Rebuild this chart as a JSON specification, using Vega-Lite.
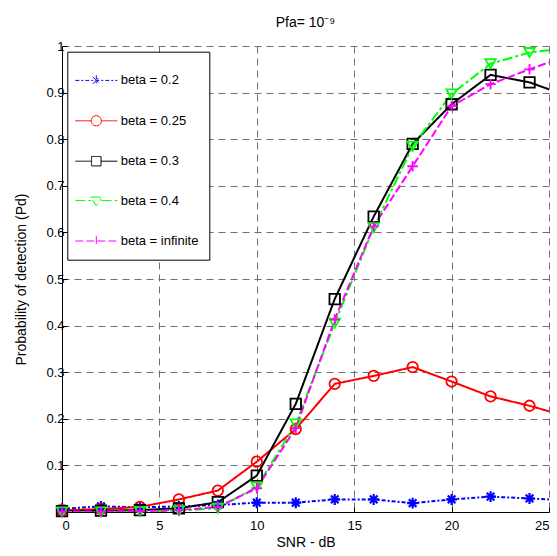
{
  "$schema": "https://vega.github.io/schema/vega-lite/v6.json",
  "autosize": "none",
  "width": 487,
  "height": 466,
  "padding": {"left": 62, "top": 46, "right": 8, "bottom": 44},
  "background": "white",
  "title": {"text": "Pfa= 10⁻⁹", "fontSize": 14, "font": "Liberation Sans", "fontWeight": "normal", "color": "black", "anchor": "middle", "offset": 10},
  "data": {"values": [
    {"snr": 0, "pd": 0.007, "beta": "beta = 0.2"},
    {"snr": 2, "pd": 0.012, "beta": "beta = 0.2"},
    {"snr": 4, "pd": 0.010, "beta": "beta = 0.2"},
    {"snr": 6, "pd": 0.012, "beta": "beta = 0.2"},
    {"snr": 8, "pd": 0.015, "beta": "beta = 0.2"},
    {"snr": 10, "pd": 0.020, "beta": "beta = 0.2"},
    {"snr": 12, "pd": 0.020, "beta": "beta = 0.2"},
    {"snr": 14, "pd": 0.027, "beta": "beta = 0.2"},
    {"snr": 16, "pd": 0.027, "beta": "beta = 0.2"},
    {"snr": 18, "pd": 0.019, "beta": "beta = 0.2"},
    {"snr": 20, "pd": 0.027, "beta": "beta = 0.2"},
    {"snr": 22, "pd": 0.033, "beta": "beta = 0.2"},
    {"snr": 24, "pd": 0.029, "beta": "beta = 0.2"},
    {"snr": 26, "pd": 0.025, "beta": "beta = 0.2"},
    {"snr": 0, "pd": 0.004, "beta": "beta = 0.25"},
    {"snr": 2, "pd": 0.006, "beta": "beta = 0.25"},
    {"snr": 4, "pd": 0.011, "beta": "beta = 0.25"},
    {"snr": 6, "pd": 0.027, "beta": "beta = 0.25"},
    {"snr": 8, "pd": 0.046, "beta": "beta = 0.25"},
    {"snr": 10, "pd": 0.108, "beta": "beta = 0.25"},
    {"snr": 12, "pd": 0.178, "beta": "beta = 0.25"},
    {"snr": 14, "pd": 0.275, "beta": "beta = 0.25"},
    {"snr": 16, "pd": 0.292, "beta": "beta = 0.25"},
    {"snr": 18, "pd": 0.311, "beta": "beta = 0.25"},
    {"snr": 20, "pd": 0.280, "beta": "beta = 0.25"},
    {"snr": 22, "pd": 0.248, "beta": "beta = 0.25"},
    {"snr": 24, "pd": 0.228, "beta": "beta = 0.25"},
    {"snr": 26, "pd": 0.204, "beta": "beta = 0.25"},
    {"snr": 0, "pd": 0.002, "beta": "beta = 0.3"},
    {"snr": 2, "pd": 0.003, "beta": "beta = 0.3"},
    {"snr": 4, "pd": 0.004, "beta": "beta = 0.3"},
    {"snr": 6, "pd": 0.008, "beta": "beta = 0.3"},
    {"snr": 8, "pd": 0.021, "beta": "beta = 0.3"},
    {"snr": 10, "pd": 0.078, "beta": "beta = 0.3"},
    {"snr": 12, "pd": 0.232, "beta": "beta = 0.3"},
    {"snr": 14, "pd": 0.457, "beta": "beta = 0.3"},
    {"snr": 16, "pd": 0.634, "beta": "beta = 0.3"},
    {"snr": 18, "pd": 0.790, "beta": "beta = 0.3"},
    {"snr": 20, "pd": 0.875, "beta": "beta = 0.3"},
    {"snr": 22, "pd": 0.938, "beta": "beta = 0.3"},
    {"snr": 24, "pd": 0.922, "beta": "beta = 0.3"},
    {"snr": 26, "pd": 0.892, "beta": "beta = 0.3"},
    {"snr": 0, "pd": 0.000, "beta": "beta = 0.4"},
    {"snr": 2, "pd": 0.000, "beta": "beta = 0.4"},
    {"snr": 4, "pd": 0.001, "beta": "beta = 0.4"},
    {"snr": 6, "pd": 0.003, "beta": "beta = 0.4"},
    {"snr": 8, "pd": 0.008, "beta": "beta = 0.4"},
    {"snr": 10, "pd": 0.054, "beta": "beta = 0.4"},
    {"snr": 12, "pd": 0.189, "beta": "beta = 0.4"},
    {"snr": 14, "pd": 0.405, "beta": "beta = 0.4"},
    {"snr": 16, "pd": 0.610, "beta": "beta = 0.4"},
    {"snr": 18, "pd": 0.785, "beta": "beta = 0.4"},
    {"snr": 20, "pd": 0.897, "beta": "beta = 0.4"},
    {"snr": 22, "pd": 0.962, "beta": "beta = 0.4"},
    {"snr": 24, "pd": 0.986, "beta": "beta = 0.4"},
    {"snr": 26, "pd": 0.996, "beta": "beta = 0.4"},
    {"snr": 0, "pd": 0.001, "beta": "beta = infinite"},
    {"snr": 2, "pd": 0.001, "beta": "beta = infinite"},
    {"snr": 4, "pd": 0.002, "beta": "beta = infinite"},
    {"snr": 6, "pd": 0.004, "beta": "beta = infinite"},
    {"snr": 8, "pd": 0.011, "beta": "beta = infinite"},
    {"snr": 10, "pd": 0.051, "beta": "beta = infinite"},
    {"snr": 12, "pd": 0.180, "beta": "beta = infinite"},
    {"snr": 14, "pd": 0.413, "beta": "beta = infinite"},
    {"snr": 16, "pd": 0.613, "beta": "beta = infinite"},
    {"snr": 18, "pd": 0.742, "beta": "beta = infinite"},
    {"snr": 20, "pd": 0.871, "beta": "beta = infinite"},
    {"snr": 22, "pd": 0.918, "beta": "beta = infinite"},
    {"snr": 24, "pd": 0.950, "beta": "beta = infinite"},
    {"snr": 26, "pd": 0.980, "beta": "beta = infinite"}
  ]},
  "encoding": {
    "x": {"field": "snr", "type": "quantitative", "scale": {"domain": [0, 25], "nice": false},
      "axis": {"title": "SNR - dB", "values": [0, 5, 10, 15, 20, 25], "labelPadding": 12, "titlePadding": 3}},
    "y": {"field": "pd", "type": "quantitative", "scale": {"domain": [0, 1], "nice": false},
      "axis": {"title": "Probability of detection (Pd)", "values": [0, 0.1, 0.2, 0.3, 0.4, 0.5, 0.6, 0.7, 0.8, 0.9, 1], "format": ".1~f", "labelPadding": 3, "titlePadding": 17}},
    "color": {"field": "beta", "type": "nominal",
      "scale": {"domain": ["beta = 0.2", "beta = 0.25", "beta = 0.3", "beta = 0.4", "beta = infinite"], "range": ["#0000ff", "#ff0000", "#000000", "#00ff00", "#ff00ff"]},
      "legend": {
        "orient": "none", "legendX": 5.3, "legendY": 5.7, "title": null,
        "padding": 10.7, "rowPadding": 14.4, "symbolSize": 1225, "symbolOffset": 0.3, "labelOffset": 6.4,
        "labelFont": "Liberation Sans", "labelFontSize": 13, "labelColor": "black",
        "strokeColor": "black", "fillColor": "white", "cornerRadius": 0, "symbolStrokeWidth": 1,
        "encode": {"symbols": {"update": {
          "fill": {"value": "transparent"},
          "strokeWidth": {"value": 1},
          "shape": {"signal": "datum.value === 'beta = 0.2' ? 'M-1.2,0L1.2,0M0,-0.29L0,0.29M-0.2,-0.2L0.2,0.2M-0.2,0.2L0.2,-0.2' : datum.value === 'beta = 0.25' ? 'M-1.2,0L-0.29,0M0.29,0L1.2,0M0.29,0A0.29 0.29 0 1 1 -0.29,0A0.29 0.29 0 1 1 0.29,0' : datum.value === 'beta = 0.3' ? 'M-1.2,0L-0.27,0M0.27,0L1.2,0M-0.27,-0.27L0.27,-0.27L0.27,0.27L-0.27,0.27Z' : datum.value === 'beta = 0.4' ? 'M-1.2,0L-0.3,0M0.3,0L1.2,0M-0.33,-0.2L0.33,-0.2L0,0.3Z' : 'M-1.2,0L1.2,0M0,-0.29L0,0.29'"},
          "strokeDash": {"signal": "datum.value === 'beta = 0.2' ? [6,6] : datum.value === 'beta = 0.4' ? [30,6,3,6] : [1,0]"}
        }}}
      }}
  },
  "layer": [
    {
      "mark": {"type": "line", "strokeWidth": 2, "clip": true},
      "encoding": {
        "strokeDash": {"field": "beta", "type": "nominal", "legend": null,
          "scale": {"domain": ["beta = 0.2", "beta = 0.25", "beta = 0.3", "beta = 0.4", "beta = infinite"], "range": [[4, 2, 2, 2], [1, 0], [1, 0], [10, 3, 3, 3], [8, 3]]}}
      }
    },
    {
      "transform": [{"filter": "datum.snr <= 25 && datum.beta === 'beta = 0.2'"}],
      "mark": {"type": "point", "filled": false, "strokeWidth": 2.2, "size": 120, "opacity": 1, "shape": "M-1,0L1,0M0,-1L0,1M-0.7,-0.7L0.7,0.7M-0.7,0.7L0.7,-0.7"}
    },
    {
      "transform": [{"filter": "datum.snr <= 25 && datum.beta === 'beta = 0.25'"}],
      "mark": {"type": "point", "filled": false, "strokeWidth": 1.8, "size": 110, "opacity": 1, "shape": "circle"}
    },
    {
      "transform": [{"filter": "datum.snr <= 25 && datum.beta === 'beta = 0.3'"}],
      "mark": {"type": "point", "filled": false, "strokeWidth": 1.8, "size": 110, "opacity": 1, "shape": "square"}
    },
    {
      "transform": [{"filter": "datum.snr <= 25 && datum.beta === 'beta = 0.4'"}],
      "mark": {"type": "point", "filled": false, "strokeWidth": 1.8, "size": 110, "opacity": 1, "shape": "triangle-down"}
    },
    {
      "transform": [{"filter": "datum.snr <= 25 && datum.beta === 'beta = infinite'"}],
      "mark": {"type": "point", "filled": false, "strokeWidth": 1.8, "size": 110, "opacity": 1, "shape": "M-1,0L1,0M0,-1L0,1"}
    }
  ],
  "config": {
    "view": {"stroke": null},
    "axis": {
      "labelFont": "Liberation Sans", "labelFontSize": 13, "labelColor": "black",
      "titleFont": "Liberation Sans", "titleFontSize": 14, "titleFontWeight": "normal", "titleColor": "black",
      "domainColor": "black", "domainWidth": 1, "tickColor": "black", "tickSize": -5, "tickWidth": 1,
      "grid": true, "gridColor": "#707070", "gridDash": [7, 5], "gridWidth": 1, "gridOpacity": 1
    }
  }
}
